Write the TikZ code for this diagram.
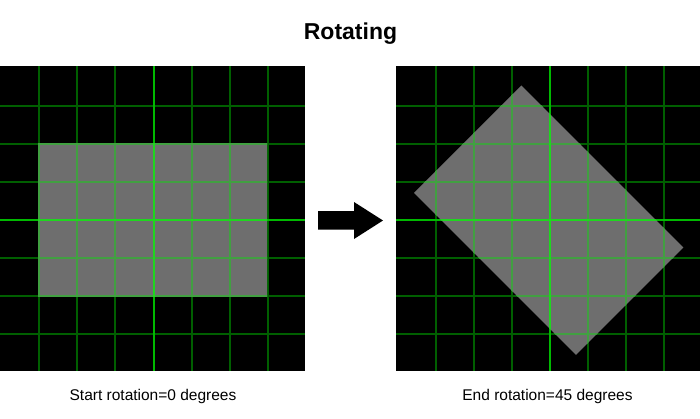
\documentclass[tikz,border=0pt]{standalone}
\usepackage{fontspec}
\setmainfont{Liberation Sans}
\definecolor{gridDark}{RGB}{0,95,0}
\definecolor{gridMain}{RGB}{0,185,0}
\definecolor{gridOnGray}{RGB}{65,160,65}
\definecolor{gridMainOnGray}{RGB}{30,215,30}
\definecolor{shapeGray}{RGB}{110,110,110}
\begin{document}
\begin{tikzpicture}[x=1pt,y=-1pt,
  panel/.style={fill=black},
  gridline/.style={draw=gridDark, line width=2pt},
  mainline/.style={draw=gridMain, line width=2pt},
  caption/.style={font=\fontsize{15.5}{18}\selectfont, anchor=base},
  titletext/.style={font=\bfseries\fontsize{23}{26}\selectfont, anchor=base}]
\useasboundingbox (0,0) rectangle (700,418);
\fill[white] (0,0) rectangle (700,418);
% ---------- left panel
\fill[panel] (0,66) rectangle (305,371);
\foreach \x in {39,77,115,192,230,268}
  \draw[gridline] (\x,66) -- (\x,371);
\foreach \y in {106,144,182,258,296,334}
  \draw[gridline] (0,\y) -- (305,\y);
\draw[mainline] (154,66) -- (154,371);
\draw[mainline] (0,220) -- (305,220);
\fill[shapeGray] (38,143) rectangle (267,296);
\begin{scope}
  \clip (38,143) rectangle (267,296);
  \foreach \x in {39,77,115,192,230,268}
    \draw[gridline, draw=gridOnGray] (\x,66) -- (\x,371);
  \foreach \y in {144,182,258,296}
    \draw[gridline, draw=gridOnGray] (0,\y) -- (305,\y);
  \draw[mainline, draw=gridMainOnGray] (154,66) -- (154,371);
  \draw[mainline, draw=gridMainOnGray] (0,220) -- (305,220);
\end{scope}
% ---------- right panel
\fill[panel] (396,66) rectangle (700,371);
\foreach \x in {436,474,512,588,626,664}
  \draw[gridline] (\x,66) -- (\x,371);
\foreach \y in {106,144,182,258,296,334}
  \draw[gridline] (396,\y) -- (700,\y);
\draw[mainline] (550,66) -- (550,371);
\draw[mainline] (396,220) -- (700,220);
\fill[shapeGray, rotate around={-45:(548.7,220.2)}]
  (434.2,144.2) rectangle (663.2,296.2);
\begin{scope}
  \clip[rotate around={-45:(548.7,220.2)}] (434.2,144.2) rectangle (663.2,296.2);
  \foreach \x in {436,474,512,588,626,664}
    \draw[gridline, draw=gridOnGray] (\x,66) -- (\x,371);
  \foreach \y in {106,144,182,258,296,334}
    \draw[gridline, draw=gridOnGray] (396,\y) -- (700,\y);
  \draw[mainline, draw=gridMainOnGray] (550,66) -- (550,371);
  \draw[mainline, draw=gridMainOnGray] (396,220) -- (700,220);
\end{scope}
% ---------- arrow
\fill[black] (318,211) -- (354,211) -- (354,202) -- (383,220.5) -- (354,239) -- (354,229.5) -- (318,229.5) -- cycle;
% ---------- texts
\node[titletext] (title) at (350.5,39) {Rotating};
\node[caption] (startcap) at (153,400) {Start rotation=0 degrees};
\node[caption] (endcap) at (547.5,400) {End rotation=45 degrees};
\end{tikzpicture}
\end{document}
